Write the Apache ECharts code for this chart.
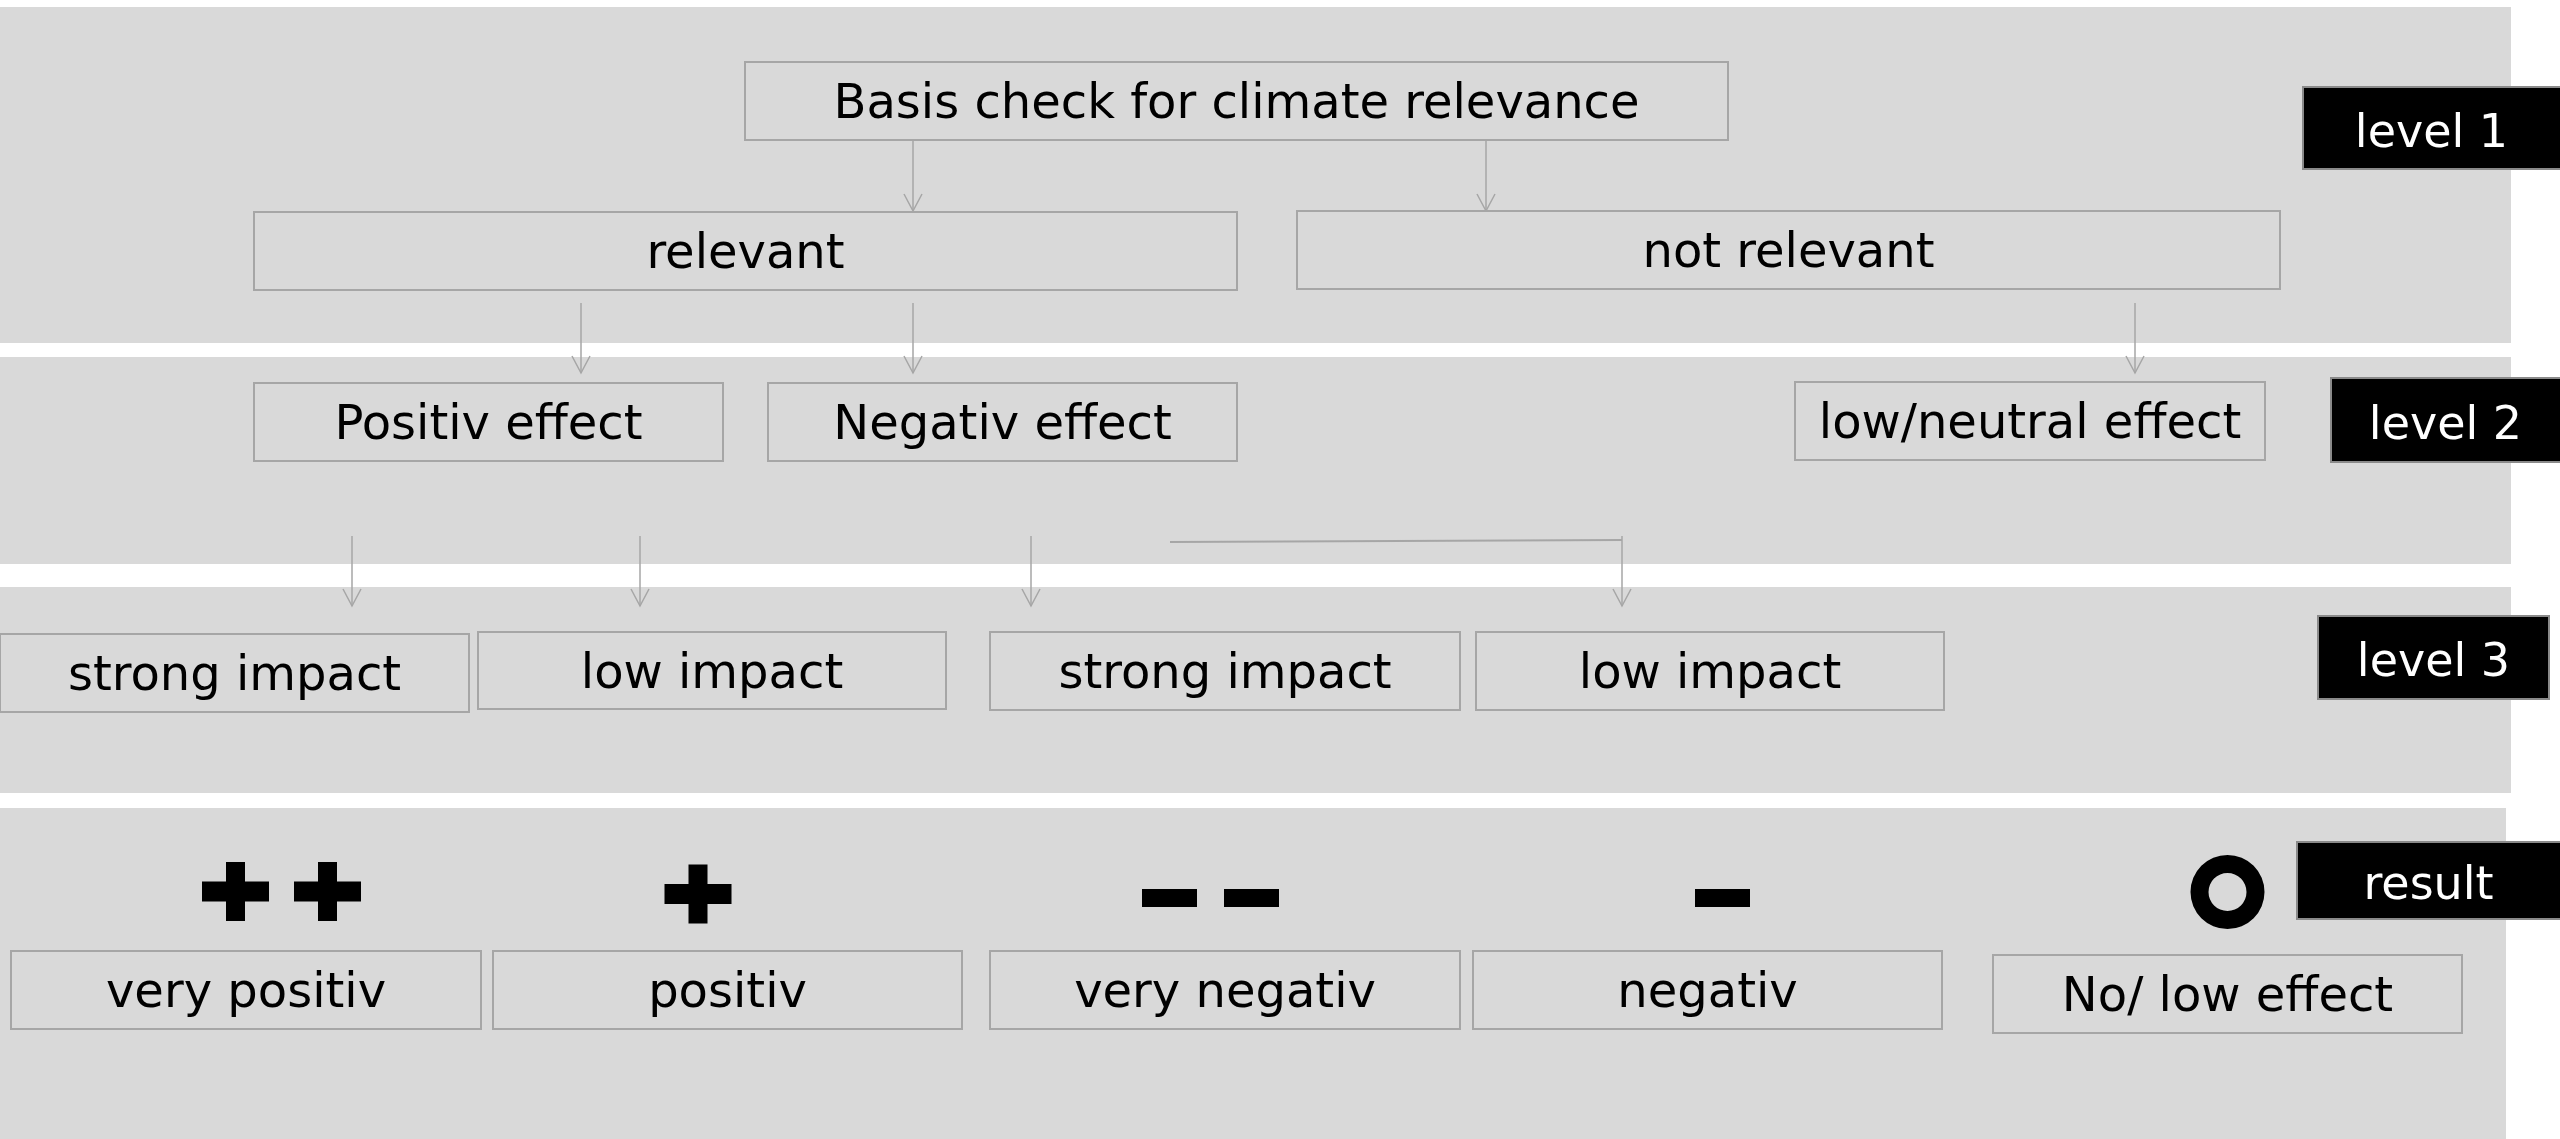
<!DOCTYPE html>
<html><head><meta charset="utf-8">
<script src="https://cdn.jsdelivr.net/npm/echarts@6/dist/echarts.min.js"></script>
<style>html,body{margin:0;padding:0;background:#fff;overflow:hidden}#c{width:2560px;height:1139px}</style>
</head><body><div id="c"></div>
<script>
// Background bands (x0, y0, x1, y1) in diagram units
const panels = [[0,7,2511,343],[0,357,2511,564],[0,587,2511,793],[0,808,2506,1139]];

// Flow boxes
const boxLabels = ["Basis check for climate relevance","relevant","not relevant",
  "Positiv effect","Negativ effect","low/neutral effect",
  "strong impact","low impact","strong impact","low impact",
  "very positiv","positiv","very negativ","negativ","No/ low effect"];
const boxBounds = [[745,62,1728,140],[254,212,1237,290],[1297,211,2280,289],
  [254,383,723,461],[768,383,1237,461],[1795,382,2265,460],
  [0,634,469,712],[478,632,946,709],[990,632,1460,710],[1476,632,1944,710],
  [11,951,481,1029],[493,951,962,1029],[990,951,1460,1029],[1473,951,1942,1029],[1993,955,2462,1033]];

// Level tags
const tagLabels = ["level 1","level 2","level 3","result"];
const tagBounds = [[2303,87,2565,169],[2331,378,2565,462],[2318,616,2549,699],[2297,842,2565,919]];

// Arrows: x, y start, y end
const arrows = [[913,140,211],[1486,140,211],[581,303,373],[913,303,373],[2135,303,373],
  [352,536,606],[640,536,606],[1031,536,606],[1622,536,606]];
// Connector segment (x0,y0,x1,y1)
const connectors = [[1170,542,1622,540]];

// Result symbols: type and centre
const symbolTypes = ["plus","plus","plus","dash","dash","dash","ring"];
const symbolCenters = [[235.5,891.5],[327.5,891.5],[698,894],[1169.5,898],[1251.5,898],[1722.5,898],[2227.5,892]];

const chart = echarts.init(document.getElementById('c'), null, {renderer:'canvas'});
const FONT = '"DejaVu Sans", Verdana, sans-serif';
const LINE = '#a6a6a6';

function rectOf(api, d){
  const p0 = api.coord([d[0], d[1]]), p1 = api.coord([d[2], d[3]]);
  return {x:p0[0], y:p0[1], width:p1[0]-p0[0], height:p1[1]-p0[1]};
}

const option = {
  animation:false,
  backgroundColor:'#ffffff',
  grid:{left:0,right:0,top:0,bottom:0},
  xAxis:{type:'value',min:0,max:2560,show:false},
  yAxis:{type:'value',min:0,max:1139,inverse:true,show:false},
  series:[
    {
      type:'custom', clip:false, silent:true, z:1,
      data:panels,
      renderItem:(params, api)=>{
        const d = panels[params.dataIndex];
        return {type:'rect', shape:rectOf(api,d), style:{fill:'#d9d9d9'}};
      }
    },
    {
      type:'custom', clip:false, silent:true, z:3,
      data:boxBounds,
      renderItem:(params, api)=>{
        const d = boxBounds[params.dataIndex];
        const r = rectOf(api,d);
        return {type:'group', children:[
          {type:'rect', shape:r, style:{fill:'#d9d9d9', stroke:LINE, lineWidth:2}},
          {type:'text', style:{text:boxLabels[params.dataIndex], x:r.x+r.width/2, y:r.y+r.height/2+5,
            align:'center', verticalAlign:'middle', font:'48px '+FONT, fill:'#000'}}
        ]};
      }
    },
    {
      type:'custom', clip:false, silent:true, z:3,
      data:tagBounds,
      renderItem:(params, api)=>{
        const d = tagBounds[params.dataIndex];
        const r = rectOf(api,d);
        const cx = api.coord([(d[0]+Math.min(d[2],2560))/2, 0])[0];
        return {type:'group', children:[
          {type:'rect', shape:r, style:{fill:'#000', stroke:'#8a8a8a', lineWidth:2}},
          {type:'text', style:{text:tagLabels[params.dataIndex], x:cx, y:r.y+r.height/2+7,
            align:'center', verticalAlign:'middle', font:'46px '+FONT, fill:'#fff'}}
        ]};
      }
    },
    {
      type:'custom', clip:false, silent:true, z:2,
      data:arrows,
      renderItem:(params, api)=>{
        const d = arrows[params.dataIndex];
        const a = api.coord([d[0], d[1]]), b = api.coord([d[0], d[2]]);
        return {type:'group', children:[
          {type:'line', shape:{x1:a[0],y1:a[1],x2:b[0],y2:b[1]}, style:{stroke:LINE, lineWidth:1.5}},
          {type:'polyline', shape:{points:[[b[0]-9,b[1]-17],[b[0],b[1]],[b[0]+9,b[1]-17]]}, style:{stroke:LINE, lineWidth:1.5, fill:null}}
        ]};
      }
    },
    {
      type:'custom', clip:false, silent:true, z:2,
      data:connectors,
      renderItem:(params, api)=>{
        const d = connectors[params.dataIndex];
        const a = api.coord([d[0], d[1]]), b = api.coord([d[2], d[3]]);
        return {type:'line', shape:{x1:a[0],y1:a[1],x2:b[0],y2:b[1]}, style:{stroke:LINE, lineWidth:2}};
      }
    },
    {
      type:'custom', clip:false, silent:true, z:3,
      data:symbolCenters,
      renderItem:(params, api)=>{
        const t = symbolTypes[params.dataIndex];
        const c = api.coord(symbolCenters[params.dataIndex]);
        if (t==='plus') {
          return {type:'group', children:[
            {type:'rect', shape:{x:c[0]-33.5,y:c[1]-10,width:67,height:20}, style:{fill:'#000'}},
            {type:'rect', shape:{x:c[0]-9.5,y:c[1]-29.5,width:19,height:59}, style:{fill:'#000'}}
          ]};
        } else if (t==='dash') {
          return {type:'rect', shape:{x:c[0]-27.5,y:c[1]-9,width:55,height:18}, style:{fill:'#000'}};
        }
        return {type:'ring', shape:{cx:c[0], cy:c[1], r:37, r0:19}, style:{fill:'#000'}};
      }
    }
  ]
};
chart.setOption(option);
</script>
</body></html>
